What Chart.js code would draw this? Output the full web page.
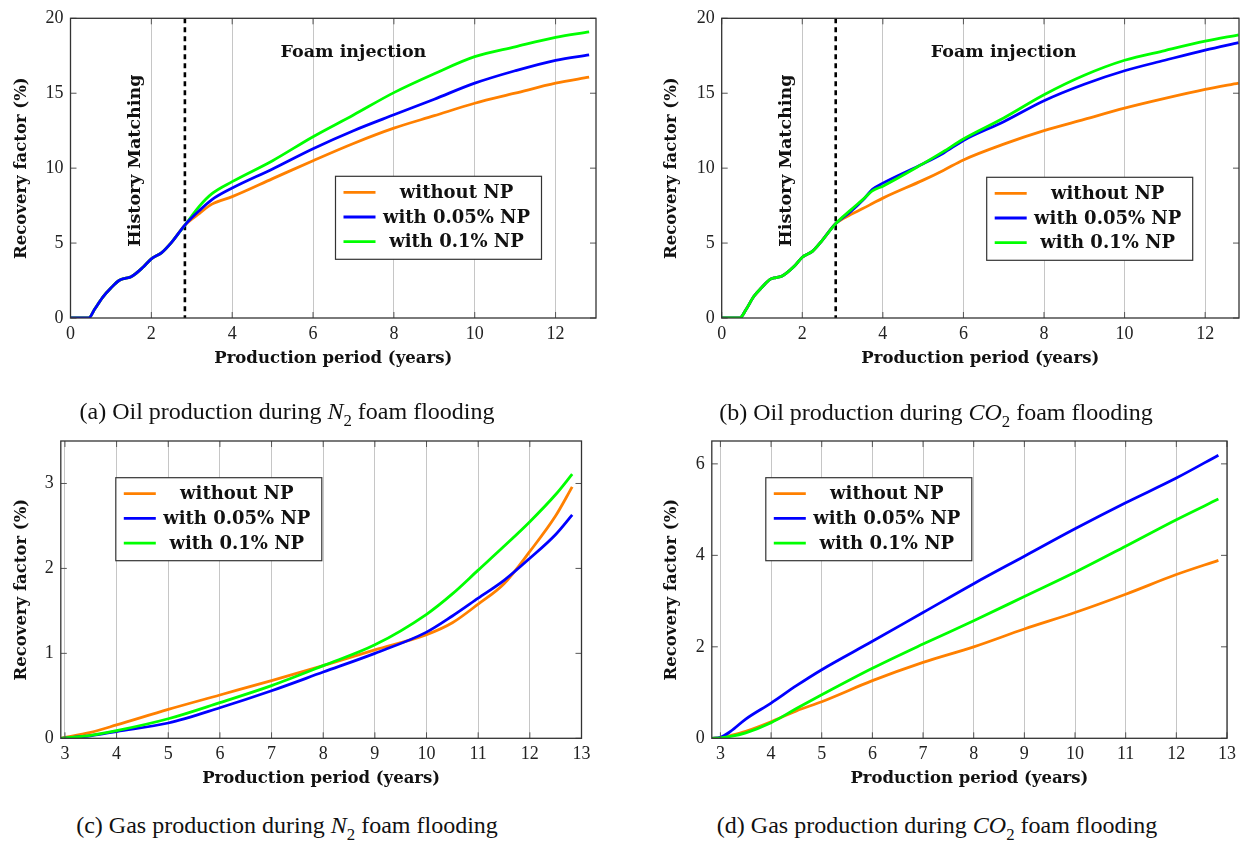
<!DOCTYPE html>
<html>
<head>
<meta charset="utf-8">
<script src="https://cdn.jsdelivr.net/npm/chart.js@4"></script>
<style>
  body { margin: 0; width: 1241px; height: 845px; overflow: hidden; background: #fff; position: relative; }
  canvas { position: absolute; }
  .cap { position: absolute; font-family: 'Liberation Serif', serif; font-size: 24px; line-height: 24px;
         color: #111; white-space: nowrap; transform: translateX(-50%); }
  .cap sub { font-size: 0.7em; vertical-align: -0.4em; line-height: 0; }
</style>
</head>
<body>
<canvas id="oilN2" width="620" height="380" style="left:0;top:0"></canvas>
<canvas id="oilCO2" width="621" height="380" style="left:620px;top:0"></canvas>
<canvas id="gasN2" width="620" height="380" style="left:0;top:420px"></canvas>
<canvas id="gasCO2" width="621" height="380" style="left:620px;top:420px"></canvas>
<div class="cap" style="left:287px;top:399px">(a) Oil production during <i>N</i><sub>2</sub> foam flooding</div>
<div class="cap" style="left:936px;top:400px">(b) Oil production during <i>CO</i><sub>2</sub> foam flooding</div>
<div class="cap" style="left:287px;top:813px">(c) Gas production during <i>N</i><sub>2</sub> foam flooding</div>
<div class="cap" style="left:937px;top:813px">(d) Gas production during <i>CO</i><sub>2</sub> foam flooding</div>
<script>
// series labels and colours
const seriesNames = ['without NP', 'with 0.05% NP', 'with 0.1% NP'];
const seriesColors = ['#ff8000', '#0000ff', '#00ff00'];

// history matching period (same for all three cases)
const historyYears = [0, 0.45, 0.6, 0.8, 1.0, 1.2, 1.35, 1.5, 1.8, 2.0, 2.25, 2.5, 2.83];
const historyOilN2 = [0, 0, 0.6, 1.4, 2.0, 2.5, 2.65, 2.75, 3.4, 3.95, 4.35, 5.05, 6.2];
const historyOilCO2 = [0, 0, 0.55, 1.45, 2.05, 2.58, 2.7, 2.8, 3.45, 4.05, 4.45, 5.2, 6.3];

// oil recovery after foam injection starts, N2
const foamYearsN2 = [3.2, 3.5, 4, 5, 6, 7, 8, 9, 10, 11, 12, 12.83];
const oilN2Without = [7.0, 7.6, 8.1, 9.3, 10.5, 11.65, 12.67, 13.5, 14.33, 15.0, 15.67, 16.07];
const oilN2Np005 = [7.2, 7.9, 8.67, 9.95, 11.3, 12.5, 13.56, 14.6, 15.67, 16.5, 17.2, 17.56];
const oilN2Np01 = [7.5, 8.3, 9.1, 10.5, 12.1, 13.55, 15.04, 16.3, 17.44, 18.1, 18.73, 19.1];

// oil recovery after foam injection starts, CO2
const foamYearsCO2 = [3.2, 3.5, 3.75, 4, 5, 5.5, 6, 7, 8, 9, 10, 11, 12, 12.83];
const oilCO2Without = [6.9, 7.3, 7.65, 8.0, 9.2, 9.85, 10.55, 11.6, 12.5, 13.25, 14.0, 14.65, 15.25, 15.67];
const oilCO2Np005 = [7.1, 7.85, 8.6, 9.0, 10.3, 11.0, 11.85, 13.1, 14.5, 15.6, 16.5, 17.2, 17.88, 18.38];
const oilCO2Np01 = [7.2, 7.9, 8.5, 8.8, 10.3, 11.1, 11.95, 13.35, 14.9, 16.2, 17.2, 17.85, 18.47, 18.9];

// gas recovery, N2
const gasYearsN2 = [2.92, 3.5, 4, 5, 6, 7, 8, 9, 10, 10.5, 11, 11.5, 12, 12.5, 12.82];
const gasN2Without = [0, 0.07, 0.157, 0.34, 0.51, 0.68, 0.855, 1.04, 1.22, 1.36, 1.58, 1.82, 2.2, 2.62, 2.96];
const gasN2Np005 = [0, 0.03, 0.08, 0.18, 0.36, 0.56, 0.78, 1.0, 1.25, 1.44, 1.65, 1.86, 2.12, 2.4, 2.63];
const gasN2Np01 = [0, 0.035, 0.09, 0.23, 0.42, 0.62, 0.855, 1.1, 1.46, 1.7, 1.98, 2.26, 2.55, 2.87, 3.11];

// gas recovery, CO2
const gasYearsCO2 = [2.83, 3, 3.2, 3.5, 4, 4.5, 5, 6, 7, 8, 9, 10, 11, 12, 12.83];
const gasCO2Without = [0, 0.01, 0.06, 0.15, 0.36, 0.6, 0.8, 1.26, 1.66, 2.0, 2.39, 2.75, 3.15, 3.58, 3.89];
const gasCO2Np005 = [0, 0.02, 0.15, 0.42, 0.77, 1.15, 1.5, 2.12, 2.75, 3.38, 3.98, 4.58, 5.15, 5.69, 6.19];
const gasCO2Np01 = [0, 0.01, 0.04, 0.12, 0.34, 0.65, 0.95, 1.53, 2.06, 2.57, 3.1, 3.63, 4.2, 4.78, 5.23];

// tick values
const oilXTicks = [0, 2, 4, 6, 8, 10, 12];
const oilYTicks = [0, 5, 10, 15, 20];
const gasXTicks = [3, 4, 5, 6, 7, 8, 9, 10, 11, 12, 13];
const gasN2YTicks = [0, 1, 2, 3];
const gasCO2YTicks = [0, 2, 4, 6];

const foamStart = 2.83;

const TICK_FONT = { family: "'Liberation Serif', serif", size: 18 };
const BOLD_FAMILY = "'DejaVu Serif', serif";
const TITLE_FONT = { family: BOLD_FAMILY, size: 16.5, weight: 'bold' };

function series(i, xs, ys, order) {
    return {
        label: seriesNames[i],
        data: xs.map((x, k) => ({ x: x, y: ys[k] })),
        borderColor: seriesColors[i],
        borderWidth: 2.8,
        pointRadius: 0,
        fill: false,
        cubicInterpolationMode: 'monotone',
        order: order
    };
}

// frame, inner tick marks, divider line, notes and boxed legend
const figurePlugin = {
    id: 'figure',
    beforeDatasetsDraw(chart, args, opts) {
        if (opts.divider == null) return;
        const { ctx, chartArea: a, scales: { x } } = chart;
        const px = x.getPixelForValue(opts.divider);
        ctx.save();
        ctx.strokeStyle = '#000';
        ctx.lineWidth = 2.6;
        ctx.setLineDash([5, 4]);
        ctx.beginPath();
        ctx.moveTo(px, a.top);
        ctx.lineTo(px, a.bottom);
        ctx.stroke();
        ctx.restore();
    },
    afterDatasetsDraw(chart, args, opts) {
        const { ctx, chartArea: a, scales: { x, y } } = chart;
        ctx.save();

        ctx.strokeStyle = '#555';
        ctx.lineWidth = 1;
        ctx.beginPath();
        y.ticks.forEach(t => {
            const py = y.getPixelForValue(t.value);
            ctx.moveTo(a.left, py); ctx.lineTo(a.left + 6, py);
            ctx.moveTo(a.right - 6, py); ctx.lineTo(a.right, py);
        });
        x.ticks.forEach(t => {
            const px = x.getPixelForValue(t.value);
            ctx.moveTo(px, a.top); ctx.lineTo(px, a.top + 6);
            ctx.moveTo(px, a.bottom - 6); ctx.lineTo(px, a.bottom);
        });
        ctx.stroke();

        ctx.strokeStyle = '#333';
        ctx.lineWidth = 1.3;
        ctx.strokeRect(a.left, a.top, a.right - a.left, a.bottom - a.top);

        ctx.fillStyle = '#111';
        ctx.textAlign = 'center';
        ctx.textBaseline = 'middle';
        ctx.font = 'bold 17.5px ' + BOLD_FAMILY;
        (opts.notes || []).forEach(n => {
            ctx.save();
            ctx.translate(x.getPixelForValue(n.x), y.getPixelForValue(n.y));
            if (n.vertical) ctx.rotate(-Math.PI / 2);
            ctx.fillText(n.text, 0, 0);
            ctx.restore();
        });

        if (opts.legend) {
            const bx = a.left + opts.legend.dx;
            const by = a.top + opts.legend.dy;
            const bw = 206, bh = 83;
            ctx.fillStyle = '#fff';
            ctx.fillRect(bx, by, bw, bh);
            ctx.strokeStyle = '#333';
            ctx.lineWidth = 1.2;
            ctx.strokeRect(bx, by, bw, bh);
            ctx.font = 'bold 18px ' + BOLD_FAMILY;
            seriesNames.forEach((name, i) => {
                const ry = by + 16 + i * 24.7;
                ctx.strokeStyle = seriesColors[i];
                ctx.lineWidth = 2.8;
                ctx.beginPath();
                ctx.moveTo(bx + 8, ry);
                ctx.lineTo(bx + 40, ry);
                ctx.stroke();
                ctx.fillStyle = '#111';
                ctx.fillText(name, bx + 121, ry + 1);
            });
        }
        ctx.restore();
    }
};

function makeChart(id, datasets, g) {
    new Chart(document.getElementById(id), {
        type: 'line',
        data: { datasets: datasets },
        plugins: [figurePlugin],
        options: {
            responsive: false,
            animation: false,
            events: [],
            layout: { padding: { left: 0, top: g.top, right: g.right, bottom: 0 } },
            scales: {
                x: {
                    type: 'linear',
                    min: g.xMin, max: g.xMax,
                    afterFit: s => { s.height = g.xAxisH; },
                    afterBuildTicks: s => { s.ticks = g.xTicks.map(v => ({ value: v })); },
                    grid: { color: '#c6c6c6', lineWidth: 1, drawTicks: false },
                    border: { display: false },
                    ticks: { font: TICK_FONT, color: '#222', padding: 5, maxRotation: 0, autoSkip: false },
                    title: {
                        display: true, text: 'Production period (years)', color: '#111',
                        font: TITLE_FONT,
                        padding: { top: 0, bottom: g.xTitlePad }
                    }
                },
                y: {
                    type: 'linear',
                    min: g.yMin, max: g.yMax,
                    afterFit: s => { s.width = g.yAxisW; },
                    afterBuildTicks: s => { s.ticks = g.yTicks.map(v => ({ value: v })); },
                    grid: { display: false, drawTicks: false },
                    border: { display: false },
                    ticks: { font: TICK_FONT, color: '#222', padding: 7 },
                    title: {
                        display: true, text: 'Recovery factor (%)', color: '#111',
                        font: TITLE_FONT,
                        padding: { top: g.yTitlePad, bottom: 0 }
                    }
                }
            },
            plugins: {
                legend: { display: false },
                tooltip: { enabled: false },
                figure: { divider: g.divider, notes: g.notes, legend: g.legend }
            }
        }
    });
}

const oilNotes = [
    { text: 'History Matching', x: 1.6, y: 10.5, vertical: true },
    { text: 'Foam injection', x: 7, y: 17.7 }
];

// (a) oil, N2 foam: blue lies on top during history matching
makeChart('oilN2', [
    series(0, historyYears.concat(foamYearsN2), historyOilN2.concat(oilN2Without), 3),
    series(1, historyYears.concat(foamYearsN2), historyOilN2.concat(oilN2Np005), 1),
    series(2, historyYears.concat(foamYearsN2), historyOilN2.concat(oilN2Np01), 2)
], {
    top: 18.3, right: 24, xAxisH: 62, yAxisW: 70.5, xTitlePad: 11.1, yTitlePad: 12,
    xMin: 0, xMax: 13, yMin: 0, yMax: 20, xTicks: oilXTicks, yTicks: oilYTicks,
    divider: foamStart, notes: oilNotes, legend: { dx: 265, dy: 158 }
});

// (b) oil, CO2 foam
makeChart('oilCO2', [
    series(0, historyYears.concat(foamYearsCO2), historyOilCO2.concat(oilCO2Without), 3),
    series(1, historyYears.concat(foamYearsCO2), historyOilCO2.concat(oilCO2Np005), 2),
    series(2, historyYears.concat(foamYearsCO2), historyOilCO2.concat(oilCO2Np01), 1)
], {
    top: 18.3, right: 2, xAxisH: 62, yAxisW: 101.7, xTitlePad: 11.1, yTitlePad: 41.8,
    xMin: 0, xMax: 12.84, yMin: 0, yMax: 20, xTicks: oilXTicks, yTicks: oilYTicks,
    divider: foamStart, notes: oilNotes, legend: { dx: 265, dy: 159 }
});

// (c) gas, N2 foam
makeChart('gasN2', [
    series(0, gasYearsN2, gasN2Without, 3),
    series(1, gasYearsN2, gasN2Np005, 2),
    series(2, gasYearsN2, gasN2Np01, 1)
], {
    top: 21, right: 38.5, xAxisH: 61.7, yAxisW: 60.8, xTitlePad: 11.1, yTitlePad: 12,
    xMin: 2.92, xMax: 13, yMin: 0, yMax: 3.5, xTicks: gasXTicks, yTicks: gasN2YTicks,
    legend: { dx: 55, dy: 36.7 }
});

// (d) gas, CO2 foam
makeChart('gasCO2', [
    series(0, gasYearsCO2, gasCO2Without, 3),
    series(1, gasYearsCO2, gasCO2Np005, 2),
    series(2, gasYearsCO2, gasCO2Np01, 1)
], {
    top: 21, right: 10.1, xAxisH: 61.7, yAxisW: 91.8, xTitlePad: 11.1, yTitlePad: 41.8,
    xMin: 2.83, xMax: 13, yMin: 0, yMax: 6.5, xTicks: gasXTicks, yTicks: gasCO2YTicks,
    legend: { dx: 54, dy: 36.7 }
});
</script>
</body>
</html>
